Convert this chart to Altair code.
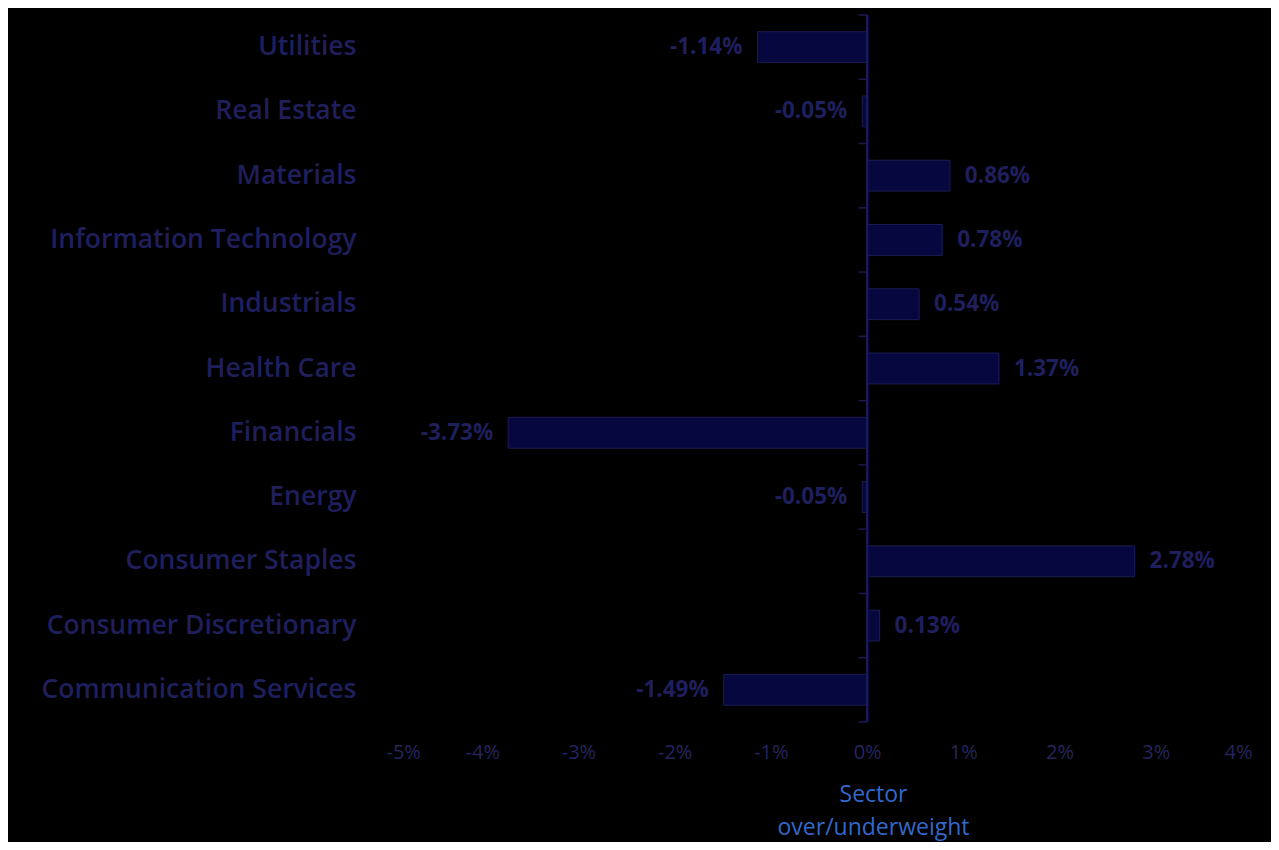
import altair as alt
import pandas as pd

sectors = ["Utilities", "Real Estate", "Materials", "Information Technology",
           "Industrials", "Health Care", "Financials", "Energy",
           "Consumer Staples", "Consumer Discretionary", "Communication Services"]
values = [-1.14, -0.05, 0.86, 0.78, 0.54, 1.37, -3.73, -0.05, 2.78, 0.13, -1.49]
x_ticks = [-5, -4, -3, -2, -1, 0, 1, 2, 3, 4]

df = pd.DataFrame({"sector": sectors, "value": values})
df["label"] = [f"{v:.2f}%" for v in values]

W, H = 866, 707
STEP = H / len(sectors)
FONT = "Open Sans"
NAVY_TXT = "#1f1f5c"
LINE = "#1a1a55"

yscale = alt.Scale(domain=sectors, paddingInner=0.52, paddingOuter=0.26)
xscale = alt.Scale(domain=[-5, 4], nice=False)

base = alt.Chart(df)

bars = base.mark_bar(color="#07073f", stroke="#1c1c52", strokeWidth=1).encode(
    y=alt.Y("sector:N", scale=yscale, sort=sectors,
            axis=alt.Axis(title=None, ticks=False, domain=False, labelPadding=30,
                          labelFont=FONT, labelFontSize=26.5, labelColor=NAVY_TXT,
                          labelFontWeight=600, labelLimit=400)),
    x=alt.X("value:Q", scale=xscale,
            axis=alt.Axis(values=x_ticks, labelExpr="datum.value + '%'", grid=False,
                          domain=False, ticks=False, labelPadding=20,
                          labelFont=FONT, labelFontSize=20, labelColor="#25255c",
                          title=["Sector", "over/underweight"], titleFont=FONT,
                          titleFontSize=23, titleFontWeight="normal", titleColor="#3468c8",
                          titleX=487, titleY=61, titleAlign="center",
                          titleBaseline="top", titleLineHeight=33)),
)

zero = base.mark_rule(color=LINE, strokeWidth=2).encode(
    x=alt.datum(0), y=alt.value(0), y2=alt.value(H)
)

ticks_top = base.mark_rule(color=LINE, strokeWidth=1.5, yOffset=-STEP / 2).encode(
    y=alt.Y("sector:N", scale=yscale, sort=sectors),
    x=alt.datum(-0.09), x2=alt.datum(0)
)
ticks_end = base.transform_filter(alt.datum.sector == sectors[-1]).mark_rule(
    color=LINE, strokeWidth=1.5, yOffset=STEP / 2).encode(
    y=alt.Y("sector:N", scale=yscale, sort=sectors),
    x=alt.datum(-0.09), x2=alt.datum(0)
)

pos_lbl = base.transform_filter(alt.datum.value >= 0).mark_text(
    align="left", baseline="middle", dx=15, font=FONT, fontSize=22.5,
    fontWeight="bold", color=NAVY_TXT).encode(
    y=alt.Y("sector:N", scale=yscale, sort=sectors),
    x=alt.X("value:Q", scale=xscale), text="label:N"
)
neg_lbl = base.transform_filter(alt.datum.value < 0).mark_text(
    align="right", baseline="middle", dx=-15, font=FONT, fontSize=22.5,
    fontWeight="bold", color=NAVY_TXT).encode(
    y=alt.Y("sector:N", scale=yscale, sort=sectors),
    x=alt.X("value:Q", scale=xscale), text="label:N"
)

chart = alt.layer(bars, zero, ticks_top, ticks_end, pos_lbl, neg_lbl).properties(
    width=W, height=H,
    background="#000000",
    autosize=alt.AutoSizeParams(type="none"),
    padding={"left": 378, "top": 7, "right": 19, "bottom": 120},
).configure_view(stroke=None)

chart.save("out.html", embed_options={"renderer": "svg", "actions": False})
